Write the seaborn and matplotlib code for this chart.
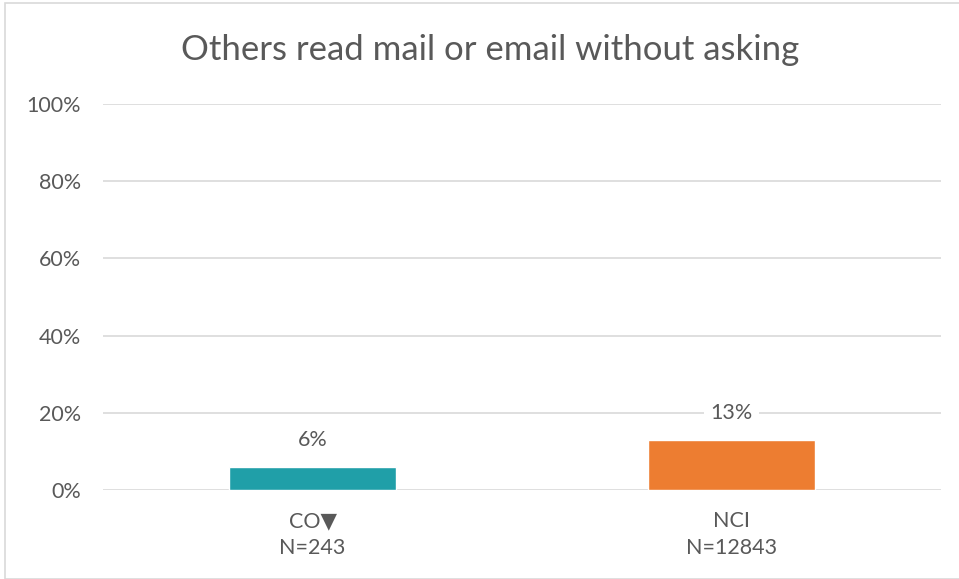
import matplotlib
matplotlib.use("Agg")
import matplotlib.pyplot as plt
import seaborn as sns
import pandas as pd
from matplotlib.patches import Rectangle

categories = ["CO\u25BC\nN=243", "NCI\nN=12843"]
values = [0.06, 0.13]
value_labels = ["6%", "13%"]
colors = ["#209FA8", "#ED7D31"]
yticks = [0, 0.2, 0.4, 0.6, 0.8, 1.0]
ytick_labels = ["0%", "20%", "40%", "60%", "80%", "100%"]
title = "Others read mail or email without asking"

sns.set_theme(style="white")
plt.rcParams['font.family'] = ['Lato', 'DejaVu Sans']
txt = "#595959"
fs = 15.5

df = pd.DataFrame({"cat": categories, "val": values})
fig = plt.figure(figsize=(9.59, 5.79), dpi=100)
ax = fig.add_axes([103/959, 1-490/579, (941-103)/959, (490-104)/579])
sns.barplot(data=df, x="cat", y="val", hue="cat", palette=colors, width=0.4,
            legend=False, ax=ax, saturation=1)
ax.set_xlim(-0.5, 1.5)
ax.set_ylim(0, 1.0)
ax.set_yticks(yticks)
ax.set_yticklabels(ytick_labels, color=txt, fontsize=fs)
ax.tick_params(axis='both', length=0)
ax.tick_params(axis='y', pad=16)
ax.tick_params(axis='x', pad=15)
for lab in ax.get_xticklabels():
    lab.set_color(txt)
    lab.set_fontsize(fs)
    lab.set_linespacing(1.45)
ax.set_xlabel("")
ax.set_ylabel("")
ax.grid(axis='y', color="#D9D9D9", linewidth=1.2)
ax.set_axisbelow(True)
for s in ax.spines.values():
    s.set_visible(False)
for i, (v, l) in enumerate(zip(values, value_labels)):
    ax.annotate(l, (i, v), xytext=(0, 19), textcoords="offset points",
                ha="center", va="center", color=txt, fontsize=fs,
                bbox=dict(boxstyle="square,pad=0.3", fc="white", ec="none"))
fig.text(490/959, 1-50/579, title, ha="center", va="center", color=txt, fontsize=25)
fig.patches.append(Rectangle((5/959, 0), 1, 1-3/579, transform=fig.transFigure,
                             fill=False, edgecolor="#D9D9D9", linewidth=1.2))
fig.savefig("out.png", dpi=100)
